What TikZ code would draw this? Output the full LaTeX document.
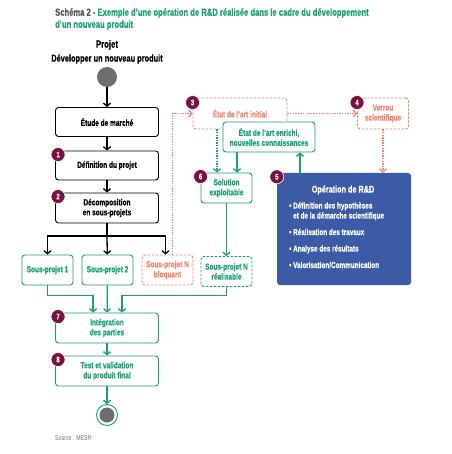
\documentclass[tikz,border=0pt]{standalone}
\usepackage{fontspec}
\setmainfont{Liberation Sans}[FakeStretch=0.74,BoldFeatures={FakeBold=0.4}]
\usetikzlibrary{arrows.meta}

\definecolor{vert}{HTML}{19A078}
\definecolor{saumon}{HTML}{F0846F}
\definecolor{bordeaux}{HTML}{7B1142}
\definecolor{bleu}{HTML}{3B5BA6}
\definecolor{gris}{HTML}{6E6E6E}
\definecolor{grisfonce}{HTML}{555555}

\tikzset{
  boite/.style={draw,rounded corners=3pt,line width=0.9pt,fill=white,
    minimum width=103pt,minimum height=29pt,align=center,inner sep=1pt,
    font=\fontsize{8.8}{10}\selectfont\bfseries},
  petite/.style={boite,minimum width=51pt,minimum height=30pt},
  verte/.style={draw=vert,text=vert},
  rouge/.style={draw=saumon,text=saumon,dash pattern=on 2.5pt off 1.5pt},
  pastille/.style={circle,fill=bordeaux,draw=white,line width=0.6pt,text=white,
    minimum size=14pt,inner sep=0pt,font=\fontsize{8}{8}\selectfont\bfseries},
  fleche/.style={->,line width=1.3pt},
  pointille/.style={fleche,dash pattern=on 1.3pt off 1.3pt}
}

\begin{document}
\begin{tikzpicture}[x=1pt,y=-1pt,>={Straight Barb[length=3pt,width=7pt]}]
  \useasboundingbox (0,0) rectangle (451,454);

  % titre
  \node[anchor=north west,align=left,inner sep=0pt,text=vert,
    font=\fontsize{10.3}{12}\selectfont\bfseries] (titre) at (55,8)
    {\textcolor{grisfonce}{Schéma 2 -} Exemple d'une opération de R\&D réalisée dans le cadre du développement\\d'un nouveau produit};
  \node[font=\fontsize{10.5}{12}\selectfont\bfseries] (projet) at (107,45) {Projet};
  \node[font=\fontsize{10}{10}\selectfont\bfseries] (produit) at (107,59) {Développer un nouveau produit};

  % colonne du projet
  \node[circle,fill=gris,minimum size=20pt,inner sep=0pt] (debut) at (107,77) {};
  \node[boite] (etude) at (107,122) {Étude de marché};
  \node[boite] (defin) at (107,165.5) {Définition du projet};
  \node[boite,minimum height=30pt] (decomp) at (107,208) {Décomposition\\en sous-projets};

  \node[petite,verte] (sp1) at (47.5,270) {Sous-projet 1};
  \node[petite,verte] (sp2) at (107.5,270) {Sous-projet 2};
  \node[petite,rouge] (spb) at (167.5,270) {Sous-projet N\\bloquant};
  \node[petite,verte,dash pattern=on 2.5pt off 1.5pt] (spr) at (226.5,271.5) {Sous-projet N\\réalisable};

  \node[boite,verte,minimum height=30pt] (integ) at (107,328) {Intégration\\des parties};
  \node[boite,verte,minimum height=30pt] (test) at (107,371) {Test et validation\\du produit final};
  \node[circle,draw=vert,line width=0.9pt,minimum size=21pt,inner sep=0pt,
    path picture={\fill[gris] (path picture bounding box.center) circle (7.5pt);}] (fin) at (107,415) {};

  % partie R&D
  \node[petite,rouge,minimum width=94pt,minimum height=31pt] (initial) at (240,113.5) {État de l'art initial};
  \node[petite,rouge,minimum height=31pt] (verrou) at (383,113.5) {Verrou\\scientifique};
  \node[boite,verte,minimum width=92pt,minimum height=30pt] (enrichi) at (269,137) {État de l'art enrichi,\\nouvelles connaissances};
  \node[petite,verte] (solution) at (226.5,188) {Solution\\exploitable};
  \node[fill=bleu,rounded corners=3pt,minimum width=134pt,minimum height=112pt] (oper) at (344,229) {};
  \node[text=white,font=\fontsize{9.8}{11}\selectfont\bfseries] (optitre) at (343,190) {Opération de R\&D};
  \node[anchor=north west,align=left,inner sep=0pt,text=white,
    font=\fontsize{8.6}{10}\selectfont\bfseries] (opliste) at (289,202)
    {\textbullet\ Définition des hypothèses\\\phantom{\textbullet\ }et de la démarche scientifique\\[6.5pt]
     \textbullet\ Réalisation des travaux\\[6.5pt]
     \textbullet\ Analyse des résultats\\[6.5pt]
     \textbullet\ Valorisation/Communication};

  % pastilles
  \node[pastille] (p1) at ([xshift=3pt,yshift=-4pt]defin.north west) {1};
  \node[pastille] (p2) at ([xshift=3pt,yshift=-4pt]decomp.north west) {2};
  \node[pastille] (p3) at ([xshift=0pt,yshift=-5pt]initial.north west) {3};
  \node[pastille] (p4) at ([xshift=0pt,yshift=-5pt]verrou.north west) {4};
  \node[pastille] (p5) at ([xshift=0pt,yshift=-4pt]oper.north west) {5};
  \node[pastille] (p6) at ([xshift=0pt,yshift=-4pt]solution.north west) {6};
  \node[pastille] (p7) at ([xshift=3pt,yshift=-4pt]integ.north west) {7};
  \node[pastille] (p8) at ([xshift=3pt,yshift=-4pt]test.north west) {8};

  % liaisons
  \draw[fleche] (debut) -- (etude);
  \draw[fleche] (etude) -- (defin);
  \draw[fleche] (defin) -- (decomp);
  \coordinate (fourche) at (107,236);
  \draw[line width=1.3pt] (decomp) -- (fourche);
  \draw[fleche] (fourche) -| (sp1);
  \draw[fleche] (fourche) -- (sp2);
  \draw[fleche] (fourche) -| ([xshift=-2pt]spb.north);

  \draw[pointille,saumon] ([xshift=5pt]spb.north) |- (initial.west);
  \draw[pointille,saumon] (initial) -- (verrou);
  \draw[pointille,saumon] (verrou) -- (verrou.south |- oper.north);
  \draw[pointille,vert] ([xshift=-9.5pt]solution.north |- initial.south) -- ([xshift=-9.5pt]solution.north);
  \draw[fleche,vert] ([xshift=10.5pt]solution.north |- enrichi.south) -- ([xshift=10.5pt]solution.north);
  \draw[fleche,vert] ([xshift=-44pt]oper.north) -- ([xshift=-44pt]oper.north |- enrichi.south);
  \draw[fleche,vert] (solution) -- (spr);

  \draw[fleche,vert] (sp1.south) -- ++(0,10) -| ([xshift=-14pt]integ.north);
  \draw[fleche,vert] (sp2) -- (integ);
  \draw[fleche,vert] (spr.south) -- ++(0,8.5) -| ([xshift=15pt]integ.north);
  \draw[fleche,vert] (integ) -- (test);
  \draw[fleche,vert] (test) -- (fin);

  \node[anchor=west,inner sep=0pt,text=gris,font=\fontsize{7}{8}\selectfont] (source) at (55,438) {Source : MESR};
\end{tikzpicture}
\end{document}
